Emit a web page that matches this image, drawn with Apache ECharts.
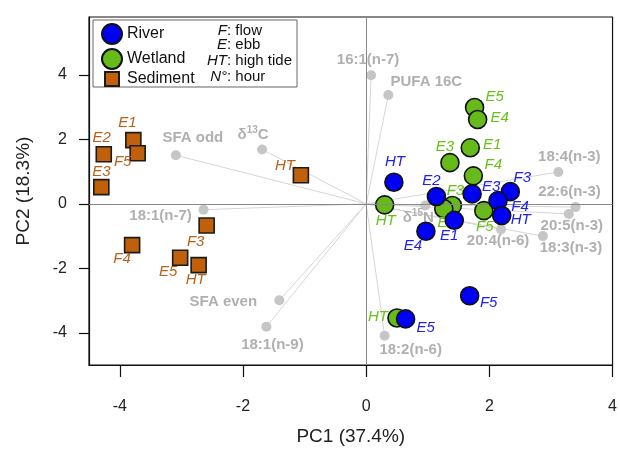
<!DOCTYPE html>
<html>
<head>
<meta charset="utf-8">
<script src="https://cdn.jsdelivr.net/npm/echarts@6/dist/echarts.min.js"></script>
<style>
html,body{margin:0;padding:0;background:#fff}
#chart1{width:620px;height:451px}
</style>
</head>
<body>
<div id="chart1"></div>
<script>
// PCA scores
var riverName = ['HT','E2','E3','F3','F4','HT','E1','E4','E5','F5'];
var riverPC1  = [0.45, 1.14, 1.72, 2.34, 2.14, 2.20, 1.43, 0.97, 0.64, 1.68];
var riverPC2  = [0.67, 0.23, 0.31, 0.38, 0.10, -0.36, -0.51, -0.85, -3.57, -2.85];

var wetName = ['E5','E4','E1','E3','F4','HT','F3','E2','F5','HT'];
var wetPC1  = [1.76, 1.81, 1.69, 1.36, 1.74, 0.30, 1.40, 1.26, 1.91, 0.50];
var wetPC2  = [2.99, 2.62, 1.74, 1.28, 0.87, -0.03, -0.05, -0.15, -0.21, -3.54];

var sedName = ['E1','E2','F5','E3','HT','F3','F4','E5','HT'];
var sedPC1  = [-3.78, -4.26, -3.71, -4.30, -1.06, -2.59, -3.80, -3.02, -2.72];
var sedPC2  = [1.98, 1.54, 1.57, 0.52, 0.89, -0.67, -1.28, -1.67, -1.90];

// loadings (variables)
var loadName = ['SFA odd','δ13C','18:1(n-7)','SFA even','18:1(n-9)','16:1(n-7)','PUFA 16C',
                '18:4(n-3)','22:6(n-3)','20:5(n-3)','18:3(n-3)','20:4(n-6)','δ15N','18:2(n-6)'];
var loadPC1 = [-3.09, -1.69, -2.64, -1.41, -1.62, 0.08, 0.36, 3.12, 3.40, 3.29, 2.87, 2.19, 0.96, 0.30];
var loadPC2 = [1.51, 1.69, -0.18, -2.99, -3.81, 3.99, 3.38, 0.99, -0.10, -0.31, -1.00, -0.79, -0.05, -4.09];

var ticks = [-4, -2, 0, 2, 4];

// label placement (pixel offsets from the marker centre)
var riverOff = [[1,-20],[-5,-16],[19,-7],[12,-14],[22,6],[19,4],[-5,16],[-13,15],[20,9],[19,7]];
var wetOff   = [[20,-11],[22,-2],[22,-3],[-5,-16],[20,-11],[1,16],[3,-15],[3,14],[1,16],[-19,-1]];
var sedOff   = [[-6,-17],[-2,-16],[-15,9],[0,-15],[-16,-9],[-11,16],[-10,14],[-12,14],[-3,15]];
var loadOff  = [[17,-17],[-9,-15],[-43,6],[-56,2],[6,18],[-3,-15],[38,-13],
                [11,-15],[-6,-15],[3,12],[28,12],[-3,12],[-7,12],[26,14]];

var FONT = '"Liberation Sans", Arial, sans-serif';

function pts(names, xs, ys, offs) {
    return xs.map(function (x, i) {
        return { name: names[i], value: [x, ys[i]], label: { offset: offs[i] } };
    });
}

function fmtLoad(p) {
    var m = /^δ(\d+)(.*)$/.exec(p.name);
    if (m) return '{t|δ}{s|' + m[1] + '}{t|' + m[2] + '}';
    return p.name;
}

function grpLabel(color) {
    return {
        show: true, position: 'inside', formatter: '{b}',
        color: color, fontStyle: 'italic', fontSize: 15, fontFamily: FONT
    };
}

// key text on the right side of the legend box
function keyText(key, rest, y) {
    return [
        { type: 'text', z: 12, x: 227, y: y, style: { text: key, align: 'right', verticalAlign: 'middle', font: 'italic 15px ' + FONT, fill: '#111' } },
        { type: 'text', z: 12, x: 227, y: y, style: { text: rest, align: 'left', verticalAlign: 'middle', font: '15px ' + FONT, fill: '#111' } }
    ];
}

var myChart = echarts.init(document.getElementById('chart1'));

var option = {
    animation: false,
    grid: {
        left: 89, right: 6, top: 17, bottom: 84,
        show: true, borderColor: '#111', borderWidth: 1.2, backgroundColor: 'transparent'
    },
    xAxis: {
        type: 'value', min: -4.5, max: 4,
        name: 'PC1 (37.4%)', nameLocation: 'middle', nameGap: 62,
        nameTextStyle: { fontSize: 19, color: '#222', fontFamily: FONT },
        axisLine: { show: true, onZero: false, lineStyle: { color: '#111', width: 1.2 } },
        axisTick: { show: true, length: 12, customValues: ticks, lineStyle: { color: '#111', width: 1.2 } },
        axisLabel: { customValues: ticks, fontSize: 16, color: '#222', margin: 34, fontFamily: FONT },
        splitLine: { show: false }
    },
    yAxis: {
        type: 'value', min: -5, max: 5.8,
        name: 'PC2 (18.3%)', nameLocation: 'middle', nameGap: 56,
        nameTextStyle: { fontSize: 19, color: '#222', fontFamily: FONT },
        axisLine: { show: true, onZero: false, lineStyle: { color: '#111', width: 1.2 } },
        axisTick: { show: true, length: 10, customValues: ticks, lineStyle: { color: '#111', width: 1.2 } },
        axisLabel: { customValues: ticks, fontSize: 16, color: '#222', margin: 22, fontFamily: FONT },
        splitLine: { show: false }
    },
    legend: [
        {
            data: ['River', 'Wetland'], orient: 'vertical', left: 96, top: 18,
            itemWidth: 20, itemHeight: 20, itemGap: 3, icon: 'circle',
            textStyle: { fontSize: 16, color: '#111', fontFamily: FONT },
            selectedMode: false, z: 10
        },
        {
            data: ['Sediment'], orient: 'vertical', left: 99, top: 66,
            itemWidth: 14, itemHeight: 14, icon: 'rect',
            textStyle: { fontSize: 16, color: '#111', fontFamily: FONT, padding: [0, 0, 0, 3] },
            selectedMode: false, z: 10
        }
    ],
    graphic: [
        { type: 'rect', z: 5, shape: { x: 93, y: 20, width: 204, height: 67 },
          style: { fill: '#fff', stroke: '#666', lineWidth: 1 } }
    ].concat(
        keyText('F', ': flow', 31),
        keyText('E', ': ebb', 45),
        keyText('HT', ': high tide', 61),
        keyText('N°', ': hour', 77)
    ),
    series: [
        {
            name: 'loadLines', type: 'lines', coordinateSystem: 'cartesian2d', silent: true, z: 1,
            lineStyle: { color: '#d6d6d6', width: 1, opacity: 1 },
            data: loadPC1.map(function (x, i) { return { coords: [[0, 0], [x, loadPC2[i]]] }; })
        },
        {
            name: 'Loadings', type: 'scatter', symbol: 'circle', symbolSize: 10, z: 2, silent: true,
            itemStyle: { color: '#c6c6c6', opacity: 1 },
            label: {
                show: true, position: 'inside', formatter: fmtLoad,
                color: '#b0b0b0', fontWeight: 'bold', fontSize: 15, fontFamily: FONT,
                rich: {
                    t: { color: '#b0b0b0', fontWeight: 'bold', fontSize: 15, fontFamily: FONT, lineHeight: 18 },
                    s: { color: '#b0b0b0', fontWeight: 'bold', fontSize: 10, fontFamily: FONT, lineHeight: 10, verticalAlign: 'top' }
                }
            },
            markLine: {
                silent: true, symbol: 'none', label: { show: false },
                lineStyle: { color: '#888', width: 1, type: 'solid' },
                data: [{ xAxis: 0 }, { yAxis: 0 }]
            },
            data: pts(loadName, loadPC1, loadPC2, loadOff)
        },
        {
            name: 'Sediment', type: 'scatter', symbol: 'rect', symbolSize: 15, z: 3,
            itemStyle: { color: '#c0600a', borderColor: '#1a1a1a', borderWidth: 1.6, opacity: 1 },
            label: grpLabel('#b5611c'),
            data: pts(sedName, sedPC1, sedPC2, sedOff)
        },
        {
            name: 'Wetland', type: 'scatter', symbol: 'circle', symbolSize: 18, z: 4,
            itemStyle: { color: '#66bb1a', borderColor: '#111', borderWidth: 1.6, opacity: 1 },
            label: grpLabel('#66c214'),
            data: pts(wetName, wetPC1, wetPC2, wetOff)
        },
        {
            name: 'River', type: 'scatter', symbol: 'circle', symbolSize: 18, z: 5,
            itemStyle: { color: '#0000f5', borderColor: '#111', borderWidth: 1.6, opacity: 1 },
            label: grpLabel('#2020ee'),
            data: pts(riverName, riverPC1, riverPC2, riverOff)
        }
    ]
};

myChart.setOption(option);
</script>
</body>
</html>
